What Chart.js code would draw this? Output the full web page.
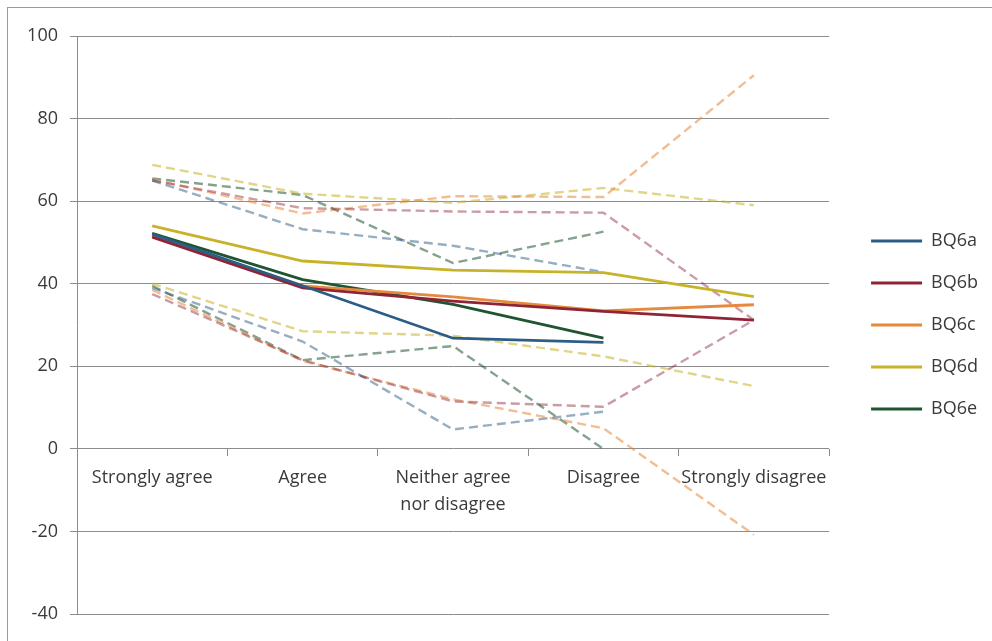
<!DOCTYPE html>
<html>
<head>
<meta charset="utf-8">
<script src="https://cdn.jsdelivr.net/npm/chart.js@4/dist/chart.umd.min.js"></script>
<style>
    html, body { margin: 0; padding: 0; background: #ffffff; }
    #wrap { position: relative; width: 992px; height: 641px; }
    #frame {
        position: absolute; left: 7px; top: 7px; right: 0; bottom: 0;
        border-left: 1px solid #9a9a9a; border-top: 1px solid #9a9a9a;
    }
    canvas { position: absolute; left: 0; top: 0; }
</style>
</head>
<body>
<div id="wrap">
    <div id="frame"></div>
    <canvas id="chart" width="992" height="641"></canvas>
</div>
<script>
// Categories on the x axis.
var categories = ["Strongly agree", "Agree", ["Neither agree", "nor disagree"], "Disagree", "Strongly disagree"];

// Mean values per item (solid lines).
var bq6a = [52, 39.5, 26.8, 25.8, null];
var bq6b = [51.3, 39, 35.8, 33.3, 31.2];
var bq6c = [51.6, 39.5, 36.8, 33.4, 34.9];
var bq6d = [54, 45.5, 43.3, 42.7, 36.9];
var bq6e = [52.2, 41, 35, 26.8, null];

// Upper and lower bounds per item (dashed lines).
var bq6aUpper = [65, 53.2, 49.2, 42.8, null];
var bq6aLower = [39, 26, 4.7, 9, null];
var bq6bUpper = [65, 58.3, 57.5, 57.2, 31.2];
var bq6bLower = [37.5, 21.5, 11.5, 10.2, 31.2];
var bq6cUpper = [65.3, 57, 61.2, 61, 90.5];
var bq6cLower = [38.5, 21.3, 12, 5, -20.8];
var bq6dUpper = [68.8, 61.8, 59.6, 63.2, 59];
var bq6dLower = [40, 28.5, 27.4, 22.4, 15.2];
var bq6eUpper = [65.5, 61.5, 45, 52.6, null];
var bq6eLower = [39.5, 21.5, 24.9, 0, null];

var seriesNames = ["BQ6a", "BQ6b", "BQ6c", "BQ6d", "BQ6e"];
var seriesColors = ["#2c5d87", "#8e2435", "#e5893c", "#c8b22a", "#1f5530"];
var faintColors = ["rgba(44,93,135,0.5)", "rgba(142,36,53,0.45)", "rgba(229,137,60,0.55)",
                   "rgba(200,178,42,0.55)", "rgba(31,85,48,0.55)"];

var means = [bq6a, bq6b, bq6c, bq6d, bq6e];
var uppers = [bq6aUpper, bq6bUpper, bq6cUpper, bq6dUpper, bq6eUpper];
var lowers = [bq6aLower, bq6bLower, bq6cLower, bq6dLower, bq6eLower];

var fontFamily = "'Open Sans', sans-serif";
var textColor = "#3a3a3a";
var gridColor = "#8c8c8c";

function buildDatasets() {
    var datasets = [];
    // Solid lines first so they are drawn on top.
    for (var i = 0; i < means.length; ++i) {
        datasets.push({
            label: seriesNames[i],
            data: means[i],
            borderColor: seriesColors[i],
            backgroundColor: seriesColors[i],
            borderWidth: 2.8,
            pointRadius: 0,
            tension: 0,
            fill: false
        });
    }
    for (var j = 0; j < means.length; ++j) {
        var bounds = [uppers[j], lowers[j]];
        for (var b = 0; b < bounds.length; ++b) {
            datasets.push({
                label: seriesNames[j] + (b === 0 ? " upper" : " lower"),
                data: bounds[b],
                borderColor: faintColors[j],
                backgroundColor: faintColors[j],
                borderWidth: 2.4,
                borderDash: [9, 5],
                pointRadius: 0,
                tension: 0,
                fill: false
            });
        }
    }
    return datasets;
}

new Chart(document.getElementById("chart"), {
    type: "line",
    data: {
        labels: categories,
        datasets: buildDatasets()
    },
    options: {
        responsive: false,
        animation: false,
        layout: { padding: { left: 0, top: 36, bottom: 27, right: 4 } },
        plugins: {
            tooltip: { enabled: false },
            legend: {
                position: "right",
                labels: {
                    usePointStyle: true,
                    pointStyle: "line",
                    pointStyleWidth: 51,
                    padding: 24,
                    color: textColor,
                    font: { family: fontFamily, size: 18 },
                    filter: function (item) { return item.datasetIndex < 5; }
                }
            }
        },
        scales: {
            x: {
                type: "category",
                position: { y: 0 },
                offset: true,
                grid: {
                    drawOnChartArea: false,
                    drawTicks: true,
                    tickLength: 7,
                    color: gridColor,
                    offset: true
                },
                border: { display: false },
                ticks: {
                    autoSkip: false,
                    maxRotation: 0,
                    padding: 9,
                    color: textColor,
                    font: { family: fontFamily, size: 18, lineHeight: 1.5 }
                }
            },
            y: {
                min: -40,
                max: 100,
                ticks: {
                    stepSize: 20,
                    padding: 12,
                    color: textColor,
                    font: { family: fontFamily, size: 18 }
                },
                grid: { color: gridColor, tickLength: 7 },
                border: { display: true, color: gridColor },
                afterFit: function (scale) { scale.width = 77; }
            },
            pad: {
                type: "linear",
                position: "right",
                display: true,
                grid: { display: false },
                border: { display: false },
                ticks: { display: false },
                afterFit: function (scale) { scale.width = 18; }
            }
        }
    }
});
</script>
</body>
</html>
